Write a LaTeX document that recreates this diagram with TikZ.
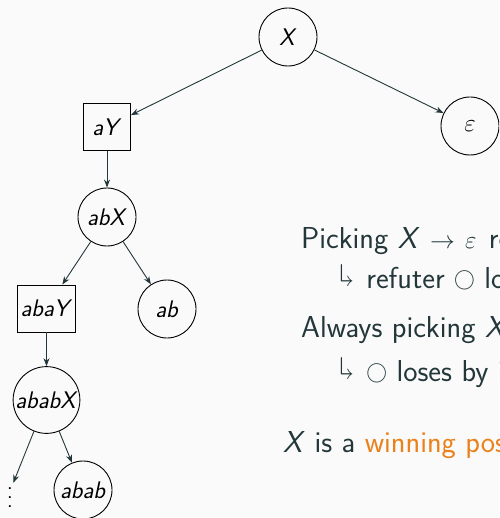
\documentclass[tikz,border=0pt]{standalone}
\usepackage{amssymb}
\usepackage{graphicx}
\usepackage{fontspec}
\usetikzlibrary{arrows.meta}
\renewcommand{\familydefault}{\sfdefault}
\definecolor{fg}{HTML}{23373B}
\definecolor{bgc}{HTML}{FAFAFA}
\definecolor{alertc}{HTML}{EB811B}
% sub-bullet arrow (a rotated \Lsh) and the player circle
\newcommand{\subarrow}{\raisebox{3pt}{\rotatebox[origin=c]{180}{$\Lsh$}}\hspace{12pt}}
\newcommand{\playercirc}{\raisebox{3pt}{\fontsize{22}{22}\selectfont$\bigcirc$}}
\newcommand{\treefont}{\fontsize{24}{26}\selectfont}
\newcommand{\bodyfont}{\fontsize{30.3}{34}\selectfont}
\begin{document}
\begin{tikzpicture}[x=1pt,y=-1pt,
  state/.style={circle, draw=black, line width=0.9pt, minimum size=58, inner sep=1pt, font=\treefont},
  choice/.style={rectangle, draw=black, line width=0.9pt, minimum size=47, inner sep=3pt, font=\treefont},
  edge/.style={draw=fg, line width=0.9pt, -{Stealth[length=8pt,width=6pt]}},
  line/.style={anchor=base west, inner sep=0pt, text=fg, font=\bodyfont}]
\useasboundingbox (0,0) rectangle (499,518);
\clip (0,0) rectangle (499,518);
\fill[bgc] (0,0) rectangle (499,518);

% game tree
\node[state] (X) at (288,37) {\textit{X}};
\node[state] (eps) at (470,126) {$\varepsilon$};
\node[choice] (aY) at (107,127) {\textit{aY}};
\node[state] (abX) at (107,217) {\textit{abX}};
\node[choice] (abaY) at (46.5,308.5) {\textit{abaY}};
\node[state] (ab) at (167,309) {\textit{ab}};
\node[state] (ababX) at (46.5,400) {\textit{ababX}};
\node[state] (abab) at (83,490) {\textit{abab}};
\node[minimum height=52, inner sep=0pt] (more) at (10,491) {\scalebox{2.2}{$\vdots$}};

\draw[edge] (X) -- (aY);
\draw[edge] (X) -- (eps);
\draw[edge] (aY) -- (abX);
\draw[edge] (abX) -- (abaY);
\draw[edge] (abX) -- (ab);
\draw[edge] (abaY) -- (ababX);
\draw[edge] (ababX) -- (more);
\draw[edge] (ababX) -- (abab);

% explanation
\node[line] (t1) at (301,248) {Picking \textit{X}\hspace{1pt} $\to$\hspace{10pt}$\varepsilon$\hspace{3pt} reaches a leaf};
\node[line] (t2) at (339,288) {\subarrow refuter \playercirc\ loses};
\node[line] (t3) at (301,337) {Always picking \textit{X} $\to$ \textit{aY}};
\node[line] (t4) at (339,381) {\subarrow\playercirc\ loses by infinite play};
\node[line] (t5) at (283,452) {\textit{X} is a \textcolor{alertc}{winning position}};
\end{tikzpicture}
\end{document}
